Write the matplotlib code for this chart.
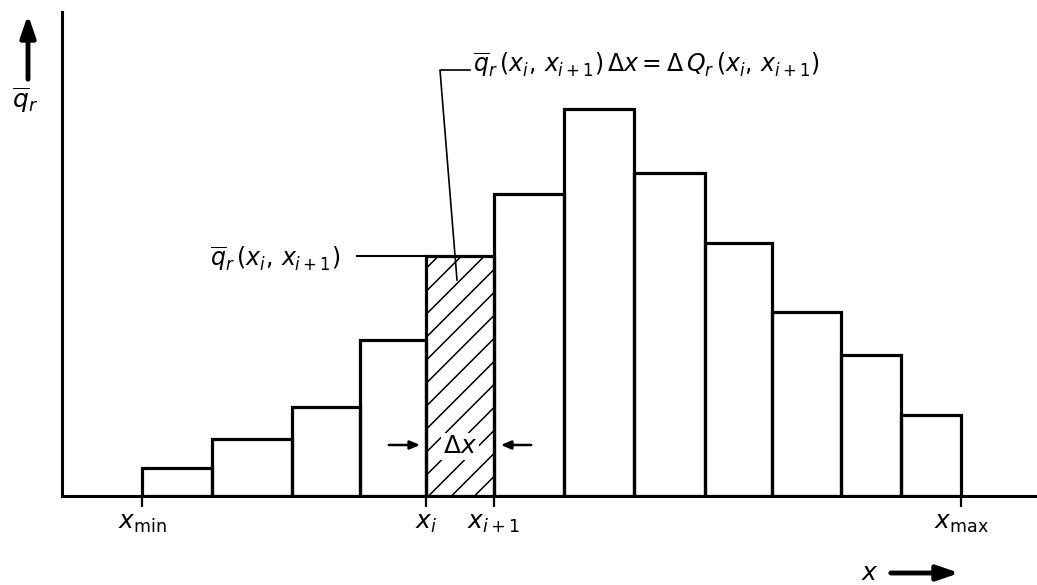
import numpy as np
import matplotlib
matplotlib.use("Agg")
import matplotlib.pyplot as plt

plt.rcParams['mathtext.fontset'] = 'dejavusans'
plt.rcParams['font.family'] = 'DejaVu Sans'

# class edges and bar heights (same units, origin at the axis corner)
edges = [80, 149.5, 229.5, 298, 364, 432, 501.5, 572, 643, 710, 779, 839, 899]
heights = [28, 57, 89, 156, 240.5, 302, 387.5, 323.5, 253.5, 184, 141, 81.5]
hatched = 4  # the class [x_i, x_i+1]

tick_pos = [edges[0], edges[hatched], edges[hatched + 1], edges[-1]]
tick_lbl = [r'$x_{\mathrm{min}}$', r'$x_i$', r'$x_{i+1}$', r'$x_{\mathrm{max}}$']

W, H = 1037, 585
fig = plt.figure(figsize=(W / 100, H / 100), dpi=100)
ax = fig.add_axes([62 / W, 89 / H, 975 / W, 484 / H])
ax.set_xlim(0, 975)
ax.set_ylim(0, 484)

lefts = np.array(edges[:-1])
widths = np.diff(edges)
bars = ax.bar(lefts, heights, width=widths, align='edge', fill=False,
              edgecolor='black', linewidth=2.3, zorder=3)

# hatching of the picked class, drawn as thin 45 degree lines clipped to the bar
b = bars[hatched]
x0, x1 = lefts[hatched], lefts[hatched] + widths[hatched]
top = heights[hatched]
for k in np.arange(x0 - top - 10, x1 + 5, 23):
    ln, = ax.plot([k, k + top + 40], [0, top + 40], color='black', lw=1.1, zorder=2)
    ln.set_clip_path(b)

for s in ['top', 'right']:
    ax.spines[s].set_visible(False)
ax.spines['left'].set_linewidth(2.2)
ax.spines['bottom'].set_linewidth(2.2)
ax.set_yticks([])
ax.set_xticks(tick_pos)
ax.set_xticklabels(tick_lbl, fontsize=18)
ax.tick_params(axis='x', direction='out', length=8, width=1.6, pad=3)

# label of the hatched bar height
ax.plot([295, x0], [top, top], color='black', lw=1.5)
ax.text(278, 237, r'$\overline{q}_r\,(x_i,\,x_{i+1})$', fontsize=17,
        ha='right', va='center')

# leader to the area formula
ax.plot([408, 378, 395], [426, 426, 216], color='black', lw=1.2, zorder=4)
ax.text(411, 431, r'$\overline{q}_r\,(x_i,\,x_{i+1})\,\Delta x = \Delta\, Q_r\,(x_i,\,x_{i+1})$',
        fontsize=17, ha='left', va='center')

# class width
ax.text((x0 + x1) / 2, 50, r'$\Delta x$', fontsize=18, ha='center', va='center',
        zorder=5, bbox=dict(fc='white', ec='none', pad=1))
arw = dict(arrowstyle='-|>,head_length=0.6,head_width=0.25', color='black', lw=1.8)
ax.annotate('', xy=(x0 - 3, 51), xytext=(x0 - 40, 51), arrowprops=arw)
ax.annotate('', xy=(x1 + 4, 51), xytext=(x1 + 40, 51), arrowprops=arw)

# axis names with arrows
big = dict(arrowstyle='-|>,head_length=1.3,head_width=0.45', color='black', lw=3.5)
fig.text(25 / W, (H - 100) / H, r'$\overline{q}_r$', fontsize=18, ha='center', va='center')
ax.annotate('', xy=(28, H - 12), xytext=(28, H - 82), xycoords='figure pixels',
            textcoords='figure pixels', arrowprops=big)
fig.text(870 / W, 12 / H, r'$x$', fontsize=18, ha='center', va='center')
ax.annotate('', xy=(962, 12), xytext=(888, 12), xycoords='figure pixels',
            textcoords='figure pixels', arrowprops=big)

fig.savefig('out.png', dpi=100)
